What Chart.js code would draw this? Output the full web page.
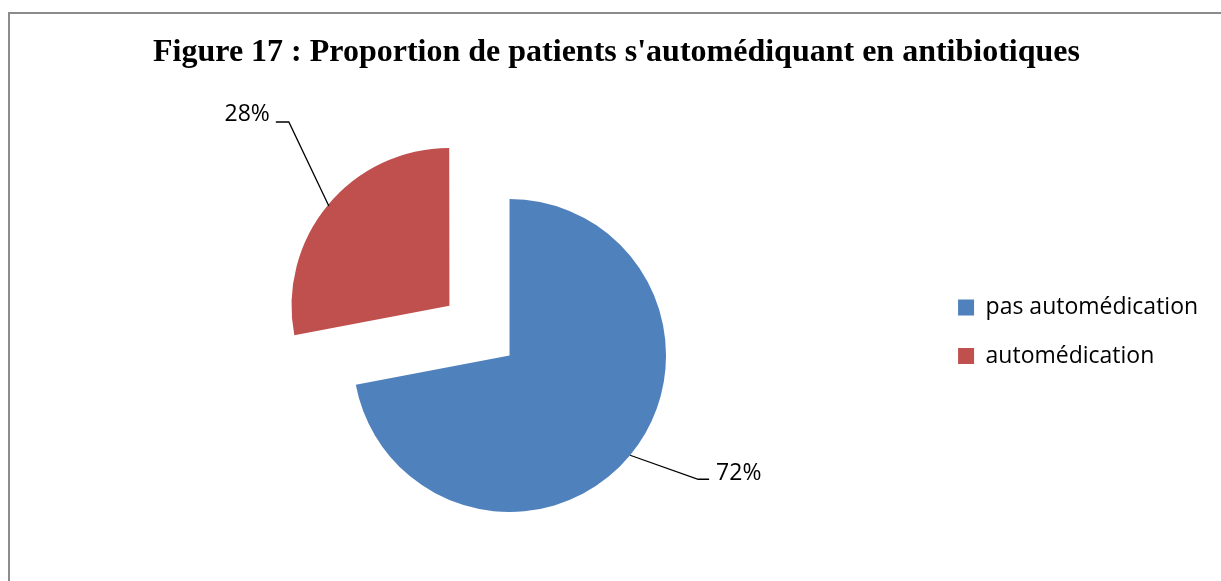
<!DOCTYPE html>
<html>
<head>
<meta charset="utf-8">
<script src="https://cdn.jsdelivr.net/npm/chart.js@4/dist/chart.umd.min.js"></script>
<style>
    html, body { margin: 0; padding: 0; background: #fff; overflow: hidden; }
    #frame { position: absolute; left: 8px; top: 12px; width: 1240px; height: 600px; border: 2px solid #8c8c8c; }
    #wrap { position: absolute; left: 0; top: 0; width: 1221px; height: 581px; }
</style>
</head>
<body>
<div id="frame"></div>
<div id="wrap"><canvas id="pieChart" width="1221" height="581"></canvas></div>
<script>
const titleText = "Figure 17 : Proportion de patients s'automédiquant en antibiotiques";
const categories = ["pas automédication", "automédication"];
const percentages = [72, 28];
const sliceColors = ["#4F81BD", "#C0504D"];

// leader line shape for each slice label (elbow offset from slice edge, tail length)
const leaderShape = [
    { dx: 68, dy: 24, tail: 11 },
    { dx: -40, dy: -84, tail: -13 }
];

const leaderLabels = {
    id: "leaderLabels",
    afterLayout(chart) {
        // the title sits over the plot + legend, centre it like the original figure
        const t = chart.titleBlock;
        const shift = 616.5 - (t.left + t.right) / 2;
        t.left += shift;
        t.right += shift;
    },
    afterDatasetsDraw(chart) {
        const ctx = chart.ctx;
        const meta = chart.getDatasetMeta(0);
        meta.data.forEach((arc, i) => {
            const p = arc.getProps(["x", "y", "startAngle", "endAngle", "outerRadius"], true);
            const mid = (p.startAngle + p.endAngle) / 2;
            const shift = (arc.options.offset || 0) / 4;
            const ex = p.x + Math.cos(mid) * (shift + p.outerRadius);
            const ey = p.y + Math.sin(mid) * (shift + p.outerRadius);
            const g = leaderShape[i];
            const bx = ex + g.dx, by = ey + g.dy;
            const tx = bx + g.tail;

            ctx.save();
            ctx.strokeStyle = "#000";
            ctx.lineWidth = 1.3;
            ctx.beginPath();
            ctx.moveTo(ex, ey);
            ctx.lineTo(bx, by);
            ctx.lineTo(tx, by);
            ctx.stroke();

            ctx.fillStyle = "#000";
            ctx.font = "23px 'Open Sans'";
            ctx.textBaseline = "alphabetic";
            if (g.tail > 0) {
                ctx.textAlign = "left";
                ctx.fillText(percentages[i] + "%", tx + 7, by + 1);
            } else {
                ctx.textAlign = "right";
                ctx.fillText(percentages[i] + "%", tx - 6, by - 1);
            }
            ctx.restore();
        });
    }
};

new Chart(document.getElementById("pieChart"), {
    type: "pie",
    data: {
        labels: categories,
        datasets: [{
            data: percentages,
            backgroundColor: sliceColors,
            borderWidth: 0,
            offset: [0, 312],
            radius: 156.5,
            cutout: "0%",
            clip: false
        }]
    },
    options: {
        responsive: false,
        animation: false,
        layout: { padding: { left: 86.5, right: 12.9, top: 0, bottom: 140.5 } },
        plugins: {
            title: {
                display: true,
                text: titleText,
                color: "#000",
                font: { family: "'Liberation Serif', 'Times New Roman', serif", size: 32, weight: "bold" },
                padding: { top: 33.3, bottom: 198.8 }
            },
            legend: {
                position: "right",
                align: "start",
                fullSize: false,
                labels: {
                    boxWidth: 16,
                    boxHeight: 16,
                    padding: 25.5,
                    color: "#000",
                    font: { family: "'Open Sans'", size: 23 }
                }
            },
            tooltip: { enabled: false }
        }
    },
    plugins: [leaderLabels]
});
</script>
</body>
</html>
